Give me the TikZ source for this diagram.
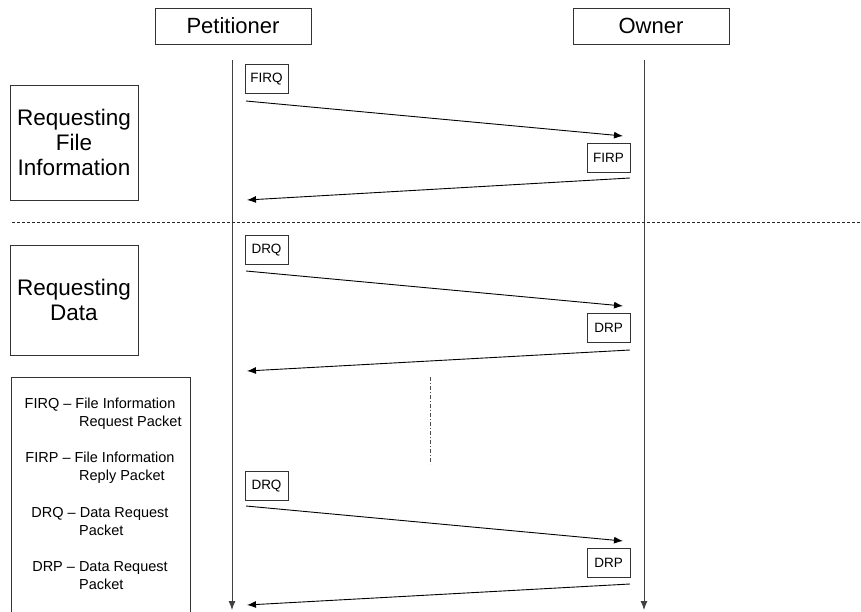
\documentclass[tikz,border=0pt]{standalone}
\usepackage{fontspec}
\setmainfont{Liberation Sans}
\usetikzlibrary{arrows.meta}

\tikzset{
	actor/.style={draw=black!80, minimum width=156pt, minimum height=36pt, inner sep=0pt, font=\fontsize{22}{24}\selectfont},
	phase/.style={draw=black!80, minimum width=128pt, inner sep=0pt, align=center, font=\fontsize{22.5}{25}\selectfont},
	packet/.style={draw=black!80, minimum width=43pt, minimum height=29pt, inner sep=0pt, font=\fontsize{13.5}{15}\selectfont},
	msg/.style={-{Latex[length=9pt,width=7pt]}, line width=.9pt},
	lifeline/.style={draw=black!75, line width=.9pt, -{Latex[length=9pt,width=7pt]}},
	legtext/.style={font=\fontsize{14.5}{16}\selectfont, inner sep=0pt},
}

\begin{document}
\begin{tikzpicture}[x=1pt, y=-1pt]
	\useasboundingbox (0,0) rectangle (861,612);

	% actors and lifelines
	\node [actor] (pet) at (233,26) {Petitioner};
	\node [actor] (own) at (651,26) {Owner};
	\coordinate (petTop) at (232,60);
	\coordinate (petEnd) at (232,610);
	\coordinate (ownTop) at (644,60);
	\coordinate (ownEnd) at (644,610);
	\draw [lifeline] (petTop) -- (petEnd);
	\draw [lifeline] (ownTop) -- (ownEnd);

	% phases
	\node [phase, minimum height=115pt] (fileinfo) at (74,142.5) {Requesting\\File\\Information};
	\node [phase, minimum height=110pt] (data) at (74,300) {Requesting\\Data};
	\draw [dashed, dash pattern=on 3pt off 2pt, black!85] (12,222) -- (861,222);

	% packets
	\node [packet] (firq) at (266.5,79) {FIRQ};
	\node [packet] (firp) at (608.5,158) {FIRP};
	\node [packet] (drq) at (266.5,250) {DRQ};
	\node [packet] (drp) at (608.5,328) {DRP};
	\node [packet] (drqb) at (266.5,486) {DRQ};
	\node [packet] (drpb) at (608.5,563) {DRP};

	\coordinate (firqS) at (246,101);
	\coordinate (firqE) at (623,136);
	\coordinate (firpS) at (630,178);
	\coordinate (firpE) at (247,200);
	\coordinate (drqS) at (246,271);
	\coordinate (drqE) at (623,306);
	\coordinate (drpS) at (630,350);
	\coordinate (drpE) at (247,371);
	\coordinate (drqbS) at (246,506);
	\coordinate (drqbE) at (623,541);
	\coordinate (drpbS) at (630,584);
	\coordinate (drpbE) at (247,605);
	\foreach \a in {firq, firp, drq, drp, drqb, drpb} {
		\draw [msg] (\a S) -- (\a E);
	}

	% gap in the transfer
	\coordinate (gapTop) at (430,377);
	\coordinate (gapEnd) at (430,464);
	\draw [black!70, dash pattern=on 4pt off 2pt on 1pt off 2pt] (gapTop) -- (gapEnd);

	% legend
	\node [draw=black!80, minimum width=179pt, minimum height=240pt, inner sep=0pt] (legend) at (100.5,497) {};
	\foreach \y/\first/\second in {406/FIRQ -- File Information/Request Packet,
		460/FIRP -- File Information/Reply Packet,
		515/DRQ -- Data Request/Packet,
		569/DRP -- Data Request/Packet} {
		\node [legtext, anchor=mid] at (100,\y) {\first};
		\node [legtext, anchor=mid west] at (79,\y+18) {\second};
	}
\end{tikzpicture}
\end{document}
